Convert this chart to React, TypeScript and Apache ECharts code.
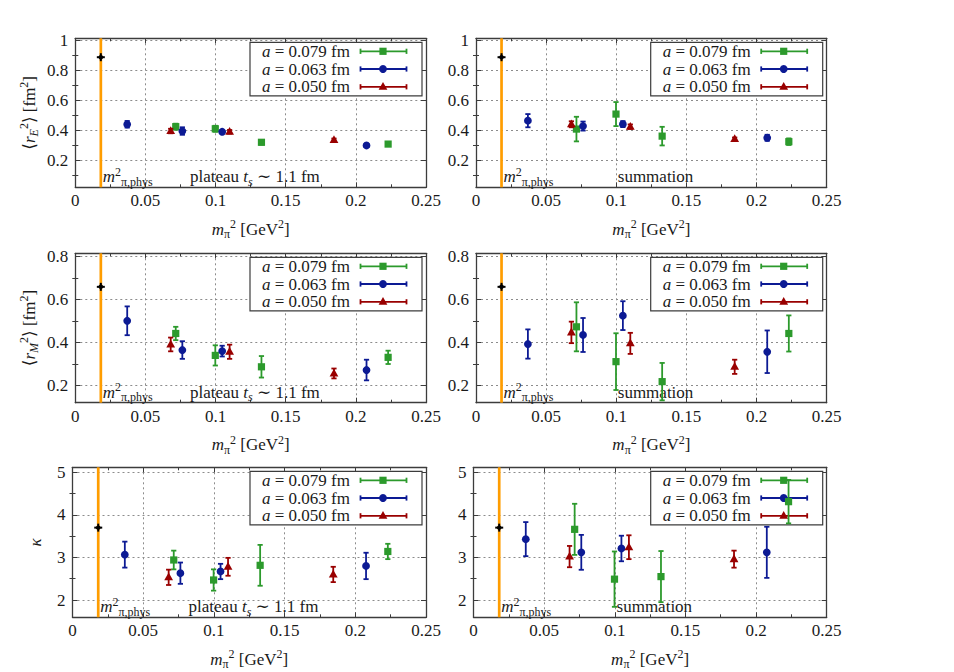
import React, { useEffect, useRef } from 'react';
import * as echarts from 'echarts';

// ---------- data ----------
const X_079 = [0.0716, 0.0998, 0.1327, 0.223];
const X_063 = [0.037, 0.0763, 0.1047, 0.2076];
const X_050 = [0.068, 0.11, 0.1844];
const PHYS_X = 0.0182;
const PHYS_Y = [0.89, 0.89, 0.66, 0.66, 3.7, 3.7];

// <r_E^2> plateau
const RE_PL_079 = [0.427, 0.413, 0.323, 0.311];
const RE_PL_079_E = [0.02, 0.02, 0.015, 0.012];
const RE_PL_063 = [0.443, 0.398, 0.393, 0.302];
const RE_PL_063_E = [0.022, 0.025, 0.012, 0.01];
const RE_PL_050 = [0.398, 0.393, 0.338];
const RE_PL_050_E = [0.015, 0.012, 0.01];
// <r_E^2> summation
const RE_SU_079 = [0.411, 0.511, 0.364, 0.327];
const RE_SU_079_E = [0.082, 0.08, 0.062, 0.022];
const RE_SU_063 = [0.467, 0.431, 0.444, 0.353];
const RE_SU_063_E = [0.044, 0.03, 0.02, 0.02];
const RE_SU_050 = [0.443, 0.427, 0.345];
const RE_SU_050_E = [0.02, 0.015, 0.01];
// <r_M^2> plateau
const RM_PL_079 = [0.443, 0.341, 0.288, 0.332];
const RM_PL_079_E = [0.031, 0.047, 0.05, 0.031];
const RM_PL_063 = [0.502, 0.366, 0.361, 0.273];
const RM_PL_063_E = [0.067, 0.041, 0.025, 0.048];
const RM_PL_050 = [0.392, 0.358, 0.257];
const RM_PL_050_E = [0.032, 0.033, 0.023];
// <r_M^2> summation
const RM_SU_079 = [0.474, 0.312, 0.219, 0.443];
const RM_SU_079_E = [0.114, 0.132, 0.087, 0.084];
const RM_SU_063 = [0.394, 0.436, 0.526, 0.358];
const RM_SU_063_E = [0.068, 0.079, 0.067, 0.099];
const RM_SU_050 = [0.448, 0.397, 0.288];
const RM_SU_050_E = [0.05, 0.049, 0.033];
// kappa plateau
const K_PL_079 = [2.94, 2.47, 2.815, 3.14];
const K_PL_079_E = [0.22, 0.25, 0.48, 0.18];
const K_PL_063 = [3.066, 2.63, 2.67, 2.8];
const K_PL_063_E = [0.305, 0.25, 0.18, 0.31];
const K_PL_050 = [2.533, 2.78, 2.6];
const K_PL_050_E = [0.18, 0.21, 0.18];
// kappa summation
const K_SU_079 = [3.66, 2.49, 2.55, 4.31];
const K_SU_079_E = [0.6, 0.65, 0.6, 0.51];
const K_SU_063 = [3.43, 3.12, 3.21, 3.12];
const K_SU_063_E = [0.4, 0.41, 0.3, 0.6];
const K_SU_050 = [3.02, 3.24, 2.96];
const K_SU_050_E = [0.25, 0.28, 0.2];

const LEGEND_LABELS = ['0.079', '0.063', '0.050'];
const X_TICK_INTERVAL = 0.05;
const Y_MIN = [0.023, 0.121, 1.594];
const Y_MAX = [1.016, 0.816, 5.117];
const Y_MAJOR = [
  [0.2, 0.4, 0.6, 0.8, 1],
  [0.2, 0.4, 0.6, 0.8],
  [2, 3, 4, 5],
];
const Y_MINOR = [
  [0.1, 0.3, 0.5, 0.7, 0.9],
  [0.3, 0.5, 0.7],
  [2.5, 3.5, 4.5],
];
const ANNOT_PHYS_X = 0.0196;
const ANNOT_METHOD_X = 0.128;
const METHOD_TEXT = ['plateau {it|t}{subit|s} ∼ 1.1 fm', 'summation'];
const PHYS_TEXT = '{it|m}{sup|2}{sub|π,phys}';
const X_NAME = '{it|m}{sub|π}{sup|2} [GeV{sup|2}]';
const Y_NAMES = [
  '⟨{it|r}{subit|E}{sup|2}⟩ [fm{sup|2}]',
  '⟨{it|r}{subit|M}{sup|2}⟩ [fm{sup|2}]',
  '{it|κ}',
];

const PANELS = [
  { v: [RE_PL_079, RE_PL_063, RE_PL_050], e: [RE_PL_079_E, RE_PL_063_E, RE_PL_050_E] },
  { v: [RE_SU_079, RE_SU_063, RE_SU_050], e: [RE_SU_079_E, RE_SU_063_E, RE_SU_050_E] },
  { v: [RM_PL_079, RM_PL_063, RM_PL_050], e: [RM_PL_079_E, RM_PL_063_E, RM_PL_050_E] },
  { v: [RM_SU_079, RM_SU_063, RM_SU_050], e: [RM_SU_079_E, RM_SU_063_E, RM_SU_050_E] },
  { v: [K_PL_079, K_PL_063, K_PL_050], e: [K_PL_079_E, K_PL_063_E, K_PL_050_E] },
  { v: [K_SU_079, K_SU_063, K_SU_050], e: [K_SU_079_E, K_SU_063_E, K_SU_050_E] },
];
const XS = [X_079, X_063, X_050];

// ---------- style / layout ----------
const FONT = 'Liberation Serif, DejaVu Serif, serif';
const TXT = '#1a1a1a';
const FRAME = '#3c3c3c';
const GRIDC = '#8c8c8c';
const COLORS = ['#2c9a2c', '#0c1a94', '#990000'];
const SHAPES = ['square', 'circle', 'triangle'];
const ORANGE = '#ff9d00';

const GRIDS = [
  { left: 75.3, top: 38.3, width: 350.7, height: 149 },
  { left: 476, top: 38.3, width: 350.7, height: 149 },
  { left: 75.3, top: 253.3, width: 350.7, height: 149.4 },
  { left: 476, top: 253.3, width: 350.7, height: 149.4 },
  { left: 72.5, top: 467.3, width: 353.5, height: 150 },
  { left: 473.5, top: 467.3, width: 353.2, height: 150 },
];
const Y_NAME_GAP = [35, 35, 26];

const base = (size: number) => ({ fontFamily: FONT, fontSize: size });
const RICH_EC: any = {
  it: { ...base(17), fontStyle: 'italic', color: TXT, lineHeight: 22 },
  sup: { ...base(12), color: TXT, verticalAlign: 'top', lineHeight: 12 },
  sub: { ...base(12), color: TXT, verticalAlign: 'bottom', lineHeight: 12 },
  subit: { ...base(12), fontStyle: 'italic', color: TXT, verticalAlign: 'bottom', lineHeight: 12 },
};
const RICH_ZR: any = {
  it: { ...base(17), fontStyle: 'italic', fill: TXT, lineHeight: 22 },
  sup: { ...base(12), fill: TXT, verticalAlign: 'top', lineHeight: 12 },
  sub: { ...base(12), fill: TXT, verticalAlign: 'bottom', lineHeight: 12 },
  subit: { ...base(12), fontStyle: 'italic', fill: TXT, verticalAlign: 'bottom', lineHeight: 12 },
};

function marker(shape: string, cx: number, cy: number, color: string, z?: number) {
  const extra: any = z != null ? { z } : {};
  if (shape === 'square')
    return { type: 'rect', shape: { x: cx - 3.6, y: cy - 3.6, width: 7.2, height: 7.2 }, style: { fill: color }, ...extra };
  if (shape === 'circle') return { type: 'circle', shape: { cx, cy, r: 3.9 }, style: { fill: color }, ...extra };
  return {
    type: 'polygon',
    shape: { points: [[cx, cy - 4.8], [cx + 4.4, cy + 3], [cx - 4.4, cy + 3]] },
    style: { fill: color },
    ...extra,
  };
}

function buildOption() {
  const xAxis: any[] = [];
  const yAxis: any[] = [];
  const series: any[] = [];
  const graphic: any[] = [];

  GRIDS.forEach((g, gi) => {
    const row = Math.floor(gi / 2);
    const isLeft = gi % 2 === 0;
    const frameLine = { show: true, lineStyle: { color: FRAME, width: 1.3 } };
    const xCommon = {
      type: 'value',
      gridIndex: gi,
      min: 0,
      max: 0.25,
      interval: X_TICK_INTERVAL,
      axisLine: { ...frameLine, onZero: false },
      axisTick: { show: true, inside: true, length: 5, lineStyle: { color: FRAME, width: 1 } },
      minorTick: { show: true, splitNumber: 2, length: 3, lineStyle: { color: FRAME, width: 1 } },
    };
    xAxis.push({
      ...xCommon,
      position: 'bottom',
      axisLabel: { show: true, color: TXT, fontFamily: FONT, fontSize: 17, margin: 5 },
      splitLine: { show: true, lineStyle: { color: GRIDC, type: [2, 3], width: 1 } },
      name: X_NAME,
      nameLocation: 'middle',
      nameGap: 31,
      nameTextStyle: { color: TXT, fontFamily: FONT, fontSize: 17, lineHeight: 22, rich: RICH_EC },
    });
    xAxis.push({
      ...xCommon,
      position: 'top',
      axisLabel: { show: false },
      splitLine: { show: false },
    });
    const yCommon = { type: 'value', gridIndex: gi, min: Y_MIN[row], max: Y_MAX[row] };
    yAxis.push({
      ...yCommon,
      position: 'left',
      axisLine: { ...frameLine, onZero: false },
      axisTick: { show: true, inside: true, length: 5, customValues: Y_MAJOR[row], lineStyle: { color: FRAME } },
      axisLabel: { show: true, customValues: Y_MAJOR[row], color: TXT, fontFamily: FONT, fontSize: 17, margin: 7 },
      splitLine: { show: true, lineStyle: { color: GRIDC, type: [2, 3], width: 1 } },
      name: isLeft ? Y_NAMES[row] : '',
      nameLocation: 'middle',
      nameRotate: 90,
      nameGap: Y_NAME_GAP[row],
      nameTextStyle: { color: TXT, fontFamily: FONT, fontSize: 17, lineHeight: 22, rich: RICH_EC },
    });
    yAxis.push({
      ...yCommon,
      position: 'right',
      axisLine: { ...frameLine, onZero: false },
      axisTick: { show: true, inside: true, length: 5, customValues: Y_MAJOR[row], lineStyle: { color: FRAME } },
      axisLabel: { show: false },
      splitLine: { show: false },
    });
    yAxis.push({
      ...yCommon,
      position: 'left',
      axisLine: { show: false },
      axisTick: { show: true, inside: true, length: 3, customValues: Y_MINOR[row], lineStyle: { color: FRAME } },
      axisLabel: { show: false },
      splitLine: { show: false },
    });
    yAxis.push({
      ...yCommon,
      position: 'right',
      axisLine: { show: false },
      axisTick: { show: true, inside: true, length: 3, customValues: Y_MINOR[row], lineStyle: { color: FRAME } },
      axisLabel: { show: false },
      splitLine: { show: false },
    });

    const xi = 2 * gi;
    const yi = 4 * gi;

    // orange physical pion mass line
    series.push({
      type: 'custom',
      xAxisIndex: xi,
      yAxisIndex: yi,
      data: [[PHYS_X, Y_MIN[row]]],
      silent: true,
      renderItem: (params: any, api: any) => {
        const p = api.coord([api.value(0), api.value(1)]);
        const cs = params.coordSys;
        return {
          type: 'line',
          shape: { x1: p[0], y1: cs.y, x2: p[0], y2: cs.y + cs.height },
          style: { stroke: ORANGE, lineWidth: 2.7 },
        };
      },
    });

    // annotations
    const annot = (x: number, text: string, align: string) => ({
      type: 'custom',
      xAxisIndex: xi,
      yAxisIndex: yi,
      data: [[x, Y_MIN[row]]],
      silent: true,
      clip: false,
      renderItem: (params: any, api: any) => {
        const p = api.coord([api.value(0), api.value(1)]);
        return {
          type: 'text',
          x: p[0],
          y: p[1] + 0.5,
          style: {
            text,
            rich: RICH_ZR,
            fill: TXT,
            fontFamily: FONT,
            fontSize: 17,
            lineHeight: 22,
            align,
            verticalAlign: 'bottom',
          },
        };
      },
    });
    series.push(annot(ANNOT_PHYS_X, PHYS_TEXT, 'left'));
    series.push(annot(ANNOT_METHOD_X, METHOD_TEXT[gi % 2], 'center'));

    // physical point
    series.push({
      type: 'custom',
      xAxisIndex: xi,
      yAxisIndex: yi,
      data: [[PHYS_X, PHYS_Y[gi]]],
      renderItem: (params: any, api: any) => {
        const p = api.coord([api.value(0), api.value(1)]);
        const ls = { stroke: '#000', lineWidth: 2 };
        return {
          type: 'group',
          children: [
            { type: 'line', shape: { x1: p[0] - 4, y1: p[1], x2: p[0] + 4, y2: p[1] }, style: ls },
            { type: 'line', shape: { x1: p[0], y1: p[1] - 4, x2: p[0], y2: p[1] + 4 }, style: ls },
            { type: 'circle', shape: { cx: p[0], cy: p[1], r: 2.3 }, style: { fill: '#000' } },
          ],
        };
      },
    });

    // data series with error bars
    [0, 1, 2].forEach((k) => {
      const xs = XS[k];
      const vs = PANELS[gi].v[k];
      const es = PANELS[gi].e[k];
      const color = COLORS[k];
      const shape = SHAPES[k];
      series.push({
        type: 'custom',
        name: 'a = ' + LEGEND_LABELS[k] + ' fm',
        xAxisIndex: xi,
        yAxisIndex: yi,
        data: xs.map((x, j) => [x, vs[j], es[j]]),
        renderItem: (params: any, api: any) => {
          const x = api.value(0);
          const y = api.value(1);
          const e = api.value(2);
          const p = api.coord([x, y]);
          const t = api.coord([x, y + e]);
          const b = api.coord([x, y - e]);
          const ls = { stroke: color, lineWidth: 1.8 };
          const c = 2.6;
          return {
            type: 'group',
            children: [
              { type: 'line', shape: { x1: p[0], y1: t[1], x2: p[0], y2: b[1] }, style: ls },
              { type: 'line', shape: { x1: p[0] - c, y1: t[1], x2: p[0] + c, y2: t[1] }, style: ls },
              { type: 'line', shape: { x1: p[0] - c, y1: b[1], x2: p[0] + c, y2: b[1] }, style: ls },
              marker(shape, p[0], p[1], color),
            ],
          };
        },
      });
    });

    // legend box (drawn as graphic)
    const R = g.left + g.width;
    const T = g.top;
    const rows = [13, 30.7, 48.5];
    graphic.push({
      type: 'rect',
      z: 1,
      shape: { x: R - 176, y: T + 4, width: 172, height: 53.5 },
      style: { fill: '#fff', stroke: FRAME, lineWidth: 1.2 },
      silent: true,
    });
    rows.forEach((ry, k) => {
      const y = T + ry;
      const color = COLORS[k];
      graphic.push({
        type: 'text',
        z: 1,
        x: R - 76,
        y,
        silent: true,
        style: {
          text: '{it|a} = ' + LEGEND_LABELS[k] + ' fm',
          rich: RICH_ZR,
          fill: TXT,
          fontFamily: FONT,
          fontSize: 17,
          lineHeight: 22,
          align: 'right',
          verticalAlign: 'middle',
        },
      });
      const x1 = R - 65.5;
      const x2 = R - 19.5;
      const ls = { stroke: color, lineWidth: 1.8 };
      graphic.push({ type: 'line', z: 1, silent: true, shape: { x1, y1: y, x2, y2: y }, style: ls });
      graphic.push({ type: 'line', z: 1, silent: true, shape: { x1, y1: y - 2.6, x2: x1, y2: y + 2.6 }, style: ls });
      graphic.push({ type: 'line', z: 1, silent: true, shape: { x1: x2, y1: y - 2.6, x2, y2: y + 2.6 }, style: ls });
      const m: any = marker(SHAPES[k], R - 43, y, color, 1);
      m.silent = true;
      graphic.push(m);
    });
  });

  return {
    animation: false,
    backgroundColor: '#ffffff',
    grid: GRIDS.map((g) => ({ ...g, containLabel: false, outerBoundsMode: 'none' })),
    xAxis,
    yAxis,
    series,
    graphic: { elements: graphic },
  };
}

export default function App() {
  const ref = useRef<HTMLDivElement>(null);
  useEffect(() => {
    if (!ref.current) return;
    const chart = echarts.init(ref.current, undefined, { renderer: 'svg' });
    chart.setOption(buildOption() as any);
    return () => chart.dispose();
  }, []);
  return (
    <div
      ref={ref}
      style={{ position: 'absolute', left: 0, top: 0, width: 954, height: 672, background: '#fff' }}
    />
  );
}
